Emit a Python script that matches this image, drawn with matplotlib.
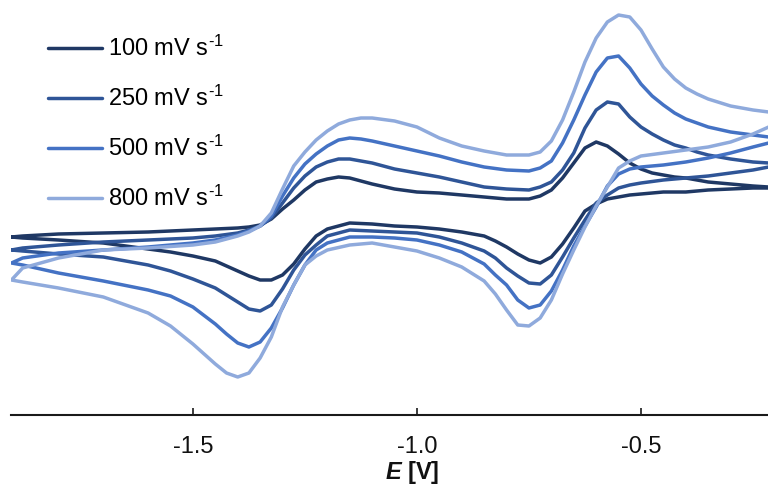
import matplotlib
matplotlib.use('Agg')
import matplotlib.pyplot as plt

plt.rcParams['font.family'] = ['Liberation Sans', 'DejaVu Sans']
plt.rcParams['axes.unicode_minus'] = False
plt.rcParams['mathtext.fontset'] = 'custom'
plt.rcParams['mathtext.rm'] = 'Liberation Sans'
plt.rcParams['mathtext.it'] = 'Liberation Sans:italic:bold'
plt.rcParams['mathtext.bf'] = 'Liberation Sans:bold'
plt.rcParams['mathtext.default'] = 'regular'

# potential of the cathodic scan (right -> left) and the anodic scan (left -> right), V
E_cath = [-0.215, -0.25, -0.30, -0.35, -0.40, -0.45, -0.50, -0.525, -0.55, -0.575,
          -0.60, -0.625, -0.65, -0.675, -0.70, -0.725, -0.75, -0.775, -0.80, -0.825,
          -0.85, -0.90, -0.95, -1.00, -1.05, -1.10, -1.15, -1.20, -1.225, -1.25,
          -1.275, -1.30, -1.325, -1.35, -1.375, -1.40, -1.425, -1.45, -1.50, -1.55,
          -1.60, -1.70, -1.80, -1.88, -1.905]
E_anod = [-1.905, -1.88, -1.80, -1.70, -1.60, -1.50, -1.45, -1.40, -1.375, -1.35,
          -1.325, -1.30, -1.275, -1.25, -1.225, -1.20, -1.175, -1.15, -1.125, -1.10,
          -1.05, -1.00, -0.95, -0.90, -0.85, -0.80, -0.75, -0.725, -0.70, -0.675,
          -0.65, -0.625, -0.60, -0.575, -0.55, -0.525, -0.50, -0.475, -0.45, -0.425,
          -0.40, -0.375, -0.35, -0.30, -0.25, -0.215]

# current (arb. units)
i_cath_100 = [5.2, 5.2, 5.1, 5.0, 4.8, 4.8, 4.6, 4.5, 4.3, 4.1, 3.6, 2.9, 1.2, -0.4, -1.7,
              -2.3, -2.0, -1.4, -0.7, -0.1, 0.4, 0.8, 1.1, 1.3, 1.4, 1.6, 1.7, 1.1, 0.4, -0.9,
              -2.4, -3.5, -4.0, -4.0, -3.6, -3.1, -2.6, -2.1, -1.6, -1.2, -0.9, -0.3, 0.0, 0.2, 0.3]
i_anod_100 = [0.3, 0.4, 0.6, 0.7, 0.8, 1.0, 1.1, 1.2, 1.3, 1.5, 2.1, 3.1, 4.0, 5.0, 5.8,
              6.1, 6.3, 6.2, 5.9, 5.6, 5.1, 4.8, 4.7, 4.5, 4.3, 4.1, 4.1, 4.4, 5.0, 6.2,
              7.7, 9.2, 9.8, 9.4, 8.6, 7.7, 7.1, 6.7, 6.5, 6.3, 6.2, 6.0, 5.8, 5.6, 5.4, 5.3]

i_cath_250 = [7.3, 7.0, 6.7, 6.4, 6.2, 6.0, 5.7, 5.5, 5.2, 4.5, 3.7, 2.0, 0.2, -1.7, -3.5,
              -4.4, -4.3, -3.6, -2.8, -1.8, -1.1, -0.3, 0.3, 0.7, 0.8, 0.9, 1.0, 0.4, -0.5, -1.5,
              -3.0, -4.9, -6.5, -7.1, -6.9, -6.2, -5.5, -4.8, -3.9, -3.1, -2.5, -1.7, -1.4, -1.1, -1.0]
i_anod_250 = [-1.0, -0.8, -0.5, -0.2, 0.0, 0.2, 0.4, 0.7, 1.0, 1.4, 2.2, 3.7, 5.2, 6.4, 7.3,
              7.8, 8.1, 8.1, 7.9, 7.7, 7.1, 6.7, 6.3, 5.8, 5.3, 5.1, 5.0, 5.3, 5.8, 7.0,
              8.7, 11.2, 13.0, 13.8, 13.6, 12.3, 11.3, 10.6, 10.0, 9.5, 9.2, 8.8, 8.5, 8.1, 7.8, 7.7]

i_cath_500 = [9.7, 9.3, 8.7, 8.2, 7.8, 7.5, 7.3, 7.1, 6.6, 5.4, 3.3, 1.4, -0.6, -3.0, -5.1,
              -6.5, -6.8, -6.0, -4.5, -3.5, -2.4, -1.2, -0.5, 0.0, 0.2, 0.3, 0.3, -0.3, -1.0, -2.5,
              -4.5, -6.8, -8.8, -10.2, -10.7, -10.3, -9.4, -8.4, -6.7, -5.6, -5.0, -4.1, -3.3, -2.5, -2.3]
i_anod_500 = [-2.3, -1.8, -1.3, -1.0, -0.7, -0.3, 0.0, 0.5, 0.9, 1.4, 2.4, 4.4, 6.2, 7.6, 8.6,
              9.4, 10.0, 10.2, 10.1, 9.9, 9.4, 8.9, 8.4, 7.8, 7.3, 7.0, 6.9, 7.2, 7.9, 9.7,
              12.0, 14.5, 16.8, 18.2, 18.4, 17.2, 15.6, 14.4, 13.5, 12.7, 12.1, 11.7, 11.3, 10.8, 10.5, 10.3]

i_cath_800 = [11.3, 10.6, 9.8, 9.3, 9.0, 8.7, 8.4, 7.9, 7.2, 5.3, 3.4, 1.3, -1.0, -3.4, -6.0,
              -7.8, -8.6, -8.5, -7.0, -5.4, -4.1, -2.7, -1.8, -1.1, -0.7, -0.3, -0.5, -1.0, -1.6, -2.5,
              -4.5, -6.7, -9.7, -11.8, -13.3, -13.7, -13.3, -12.4, -10.4, -8.6, -7.3, -5.7, -4.8, -4.2, -4.0]
i_anod_800 = [-4.0, -2.8, -1.8, -1.0, -0.8, -0.5, -0.2, 0.4, 0.8, 1.4, 2.7, 5.1, 7.4, 8.8, 10.0,
              10.9, 11.6, 12.0, 12.2, 12.2, 11.9, 11.3, 10.2, 9.4, 8.9, 8.5, 8.5, 8.8, 9.9, 12.0,
              14.8, 17.8, 20.2, 21.8, 22.5, 22.3, 21.0, 19.1, 17.3, 16.1, 15.2, 14.6, 14.1, 13.4, 13.0, 12.8]

labels = [r'100 mV s$^{\text{-}1}$', r'250 mV s$^{\text{-}1}$',
          r'500 mV s$^{\text{-}1}$', r'800 mV s$^{\text{-}1}$']
colors = ['#1F3864', '#2F5597', '#4472C4', '#8FAADC']
cath = [i_cath_100, i_cath_250, i_cath_500, i_cath_800]
anod = [i_anod_100, i_anod_250, i_anod_500, i_anod_800]

fig = plt.figure(figsize=(7.68, 4.86), dpi=100)
ax = fig.add_axes([11 / 768, 71 / 486, 757 / 768, 415 / 486])

for lab, col, ic, ia in zip(labels, colors, cath, anod):
    ax.plot(E_cath + E_anod, ic + ia, color=col, lw=2.5, label=lab,
            solid_joinstyle='round', solid_capstyle='round')

ax.set_xlim(-1.906, -0.2165)
ax.set_ylim(-17.5, 24.0)

for s in ['top', 'left', 'right']:
    ax.spines[s].set_visible(False)
ax.spines['bottom'].set_linewidth(1.5)
ax.spines['bottom'].set_color('#1a1a1a')
ax.set_yticks([])
ax.set_xticks([-1.5, -1.0, -0.5])
ax.set_xticklabels(['-1.5', '-1.0', '-0.5'])
ax.tick_params(axis='x', direction='in', length=5, width=1.2, pad=15,
               labelsize=17, colors='#1a1a1a', labelcolor='#111111')

ax.set_xlabel(r'$\mathit{E}$ [V]', fontsize=17, fontweight='bold', color='#111111')
ax.xaxis.set_label_coords((412 - 11) / 757, -0.106)

ax.legend(loc='upper left', bbox_to_anchor=(0.049, 0.913), frameon=False,
          fontsize=17, handlelength=2.3, handletextpad=0.25, labelspacing=1.05,
          borderpad=0, borderaxespad=0)

fig.savefig('out.png', dpi=100)
